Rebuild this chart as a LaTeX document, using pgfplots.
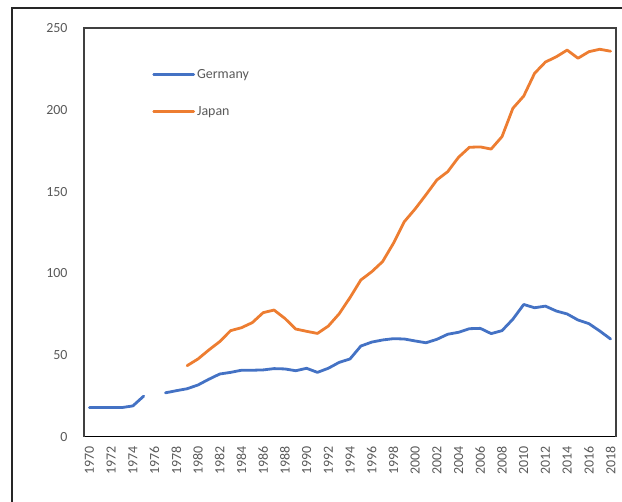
\documentclass[border=0pt]{standalone}
\usepackage{pgfplots}
\pgfplotsset{compat=1.18}
\usepackage{fontspec}
\setmainfont{Carlito}

\definecolor{exblue}{HTML}{4472C4}
\definecolor{exorange}{HTML}{ED7D31}
\definecolor{labelgray}{HTML}{595959}
\definecolor{framedark}{HTML}{404040}
\definecolor{baseline}{HTML}{D9D9D9}

% Germany: no figure for 1976
\pgfplotstableread{
year value
1970 18
1971 18
1972 18
1973 18
1974 19
1975 25
1976 nan
1977 27
1978 28.3
1979 29.5
1980 31.8
1981 35.3
1982 38.5
1983 39.5
1984 40.8
1985 40.8
1986 41
1987 41.8
1988 41.6
1989 40.5
1990 42
1991 39.5
1992 42
1993 45.6
1994 47.7
1995 55.6
1996 58
1997 59.3
1998 60.1
1999 59.9
2000 58.7
2001 57.6
2002 59.7
2003 62.8
2004 64
2005 66.2
2006 66.4
2007 63.2
2008 65
2009 72
2010 81
2011 79
2012 80
2013 77
2014 75.2
2015 71.5
2016 69.3
2017 64.8
2018 59.9
}\germany

\pgfplotstableread{
year value
1979 43.6
1980 47.7
1981 53.2
1982 58.3
1983 65
1984 66.8
1985 69.9
1986 76
1987 77.6
1988 72.5
1989 66
1990 64.6
1991 63.3
1992 67.8
1993 75.3
1994 85.2
1995 96
1996 101
1997 107.2
1998 118.4
1999 131.6
2000 139.4
2001 148.1
2002 157.1
2003 162.2
2004 171
2005 177.1
2006 177.3
2007 176
2008 183.6
2009 200.9
2010 208.4
2011 222.3
2012 229.2
2013 232.4
2014 236.5
2015 231.5
2016 235.5
2017 237
2018 235.8
}\japan

\begin{document}
\begin{tikzpicture}[x=1bp,y=1bp]
\useasboundingbox (0,0) rectangle (622,502);
% chart area border (left and top edges)
\draw[line width=1.3bp, black!85] (12,0) -- (12,494) -- (622,494);
\begin{axis}[
  at={(84bp,65bp)}, anchor=south west,
  scale only axis, width=532bp, height=409bp,
  xmin=1969.5, xmax=2018.5, ymin=0, ymax=250,
  xtick={1970,1972,...,2018}, ytick={0,50,...,250},
  major tick length=0pt,
  axis line style={draw=none},
  unbounded coords=jump,
  /pgf/number format/assume math mode=true,
  /pgf/number format/1000 sep={},
  tick label style={font=\fontsize{14}{16}\selectfont, text=labelgray},
  xticklabel style={rotate=90, anchor=east},
  xticklabel shift=6bp,
  yticklabel shift=13bp,
  legend style={draw=none, fill=none, at={(0.128,0.905)}, anchor=north west,
    font=\fontsize{14}{16}\selectfont, text=labelgray,
    row sep=23bp, inner sep=0pt, cells={anchor=west}},
  legend image code/.code={\draw[#1, line width=2.8bp] (0bp,0bp) -- (40bp,0bp);},
  clip=false,
]
\addplot[exblue, line width=2.8bp, line join=round, line cap=round] table[x=year, y=value] {\germany};
\addlegendentry{Germany}
\addplot[exorange, line width=2.8bp, line join=round, line cap=round] table[x=year, y=value] {\japan};
\addlegendentry{Japan}
\draw[baseline, line width=1bp] (rel axis cs:0,0) -- (rel axis cs:1,0);
\draw[framedark, line width=1.3bp] (rel axis cs:0,0) -- (rel axis cs:0,1) -- (rel axis cs:1,1) -- (rel axis cs:1,0);
\end{axis}
\end{tikzpicture}
\end{document}
